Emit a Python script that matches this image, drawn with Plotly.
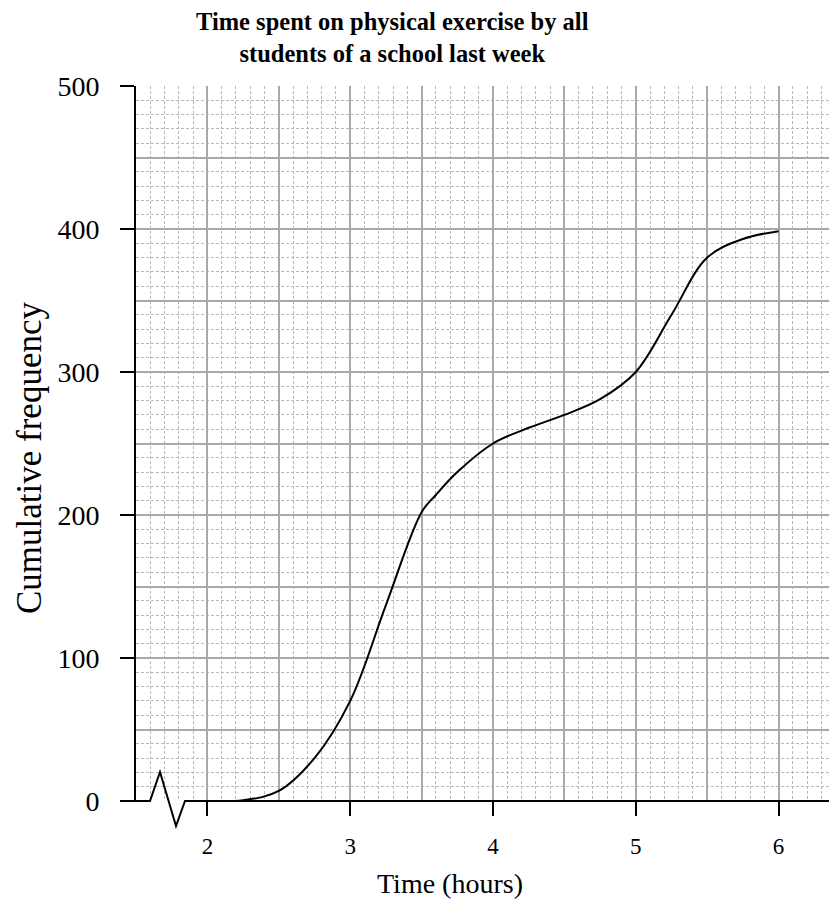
import plotly.graph_objects as go

# ---- data ----
hours = [2.0, 2.25, 2.5, 2.75, 3.0, 3.25, 3.5, 3.6, 3.75, 4.0, 4.25, 4.5, 4.75, 5.0, 5.25, 5.5, 5.75, 6.0]
cum_freq = [0, 0.5, 7, 30, 70, 137, 202, 214, 230, 250, 261, 270, 281, 300, 340, 380, 393, 398.5]
x_tick_vals = [2, 3, 4, 5, 6]
x_tick_text = ["2", "3", "4", "5", "6"]
y_tick_vals = [0, 100, 200, 300, 400, 500]
y_tick_text = ["0", "100", "200", "300", "400", "500"]

title_text = "<b>Time spent on physical exercise by all<br>students of a school last week</b>"
x_title = "Time (hours)"
y_title = "Cumulative frequency"

# ---- geometry (page pixels; the page body adds an 8px offset) ----
OFF = 8
PAGE_W, PAGE_H = 837, 904
PLOT_L, PLOT_R, PLOT_T, PLOT_B = 136, 837, 86, 801
W, H = PAGE_W - OFF, PAGE_H - OFF
L = PLOT_L - OFF
T = PLOT_T - OFF
R = PAGE_W - PLOT_R
B = PAGE_H - PLOT_B
PW, PH = PLOT_R - PLOT_L, PLOT_B - PLOT_T
X_RANGE = [1.5, 1.5 + PW / 142.8]
Y_RANGE = [0, 500]

FONT = "Liberation Serif, Times New Roman, serif"
MAJOR = "#a9a9a9"
MINOR = "#b8b8b8"


def px_x(p):
    return (p - PLOT_L) / PW


def px_y(p):
    return (PLOT_B - p) / PH


fig = go.Figure()
fig.add_trace(go.Scatter(
    x=hours, y=cum_freq, mode="lines",
    line=dict(color="black", width=2, shape="spline", smoothing=1.0),
    hoverinfo="skip", showlegend=False,
))
fig.add_trace(go.Scatter(x=[None], y=[None], xaxis="x2", yaxis="y2",
                         showlegend=False, hoverinfo="skip"))

minor_x = dict(dtick=0.1, tick0=0, showgrid=True, gridcolor=MINOR, gridwidth=1,
               griddash="3px,2px", ticks="")
minor_y = dict(dtick=10, tick0=0, showgrid=True, gridcolor=MINOR, gridwidth=1,
               griddash="3px,2px", ticks="")

fig.update_layout(
    width=W, height=H,
    margin=dict(l=L, r=R, t=T, b=B),
    paper_bgcolor="white", plot_bgcolor="white",
    font=dict(family=FONT, color="black"),
    xaxis=dict(range=X_RANGE, tickmode="array", tickvals=x_tick_vals, ticktext=x_tick_text,
               ticks="outside", ticklen=14, tickwidth=2, tickcolor="black",
               ticklabelstandoff=10,
               tickfont=dict(family=FONT, size=23, color="black"),
               showgrid=True, gridcolor=MAJOR, gridwidth=2,
               zeroline=False, showline=False, minor=minor_x),
    yaxis=dict(range=Y_RANGE, tickmode="array", tickvals=y_tick_vals, ticktext=y_tick_text,
               ticks="outside", ticklen=14, tickwidth=2, tickcolor="black",
               ticklabelstandoff=15,
               tickfont=dict(family=FONT, size=28, color="black"),
               showgrid=True, gridcolor=MAJOR, gridwidth=2,
               zeroline=False, showline=True, linecolor="black", linewidth=2,
               minor=minor_y),
    xaxis2=dict(range=X_RANGE, overlaying="x", anchor="y2", side="bottom",
                dtick=0.5, tick0=0, showgrid=True, gridcolor=MAJOR, gridwidth=2,
                showticklabels=False, ticks="", zeroline=False, showline=False),
    yaxis2=dict(range=Y_RANGE, overlaying="y", anchor="x2", side="left",
                dtick=50, tick0=0, showgrid=True, gridcolor=MAJOR, gridwidth=2,
                showticklabels=False, ticks="", zeroline=False, showline=False),
)

# x-axis line with the axis-break zigzag
pts = [(122, 801), (150, 801), (160, 772), (176, 826), (185, 801), (PAGE_W, 801)]
path = "M " + " L ".join(f"{px_x(a):.5f},{px_y(b):.5f}" for a, b in pts)
fig.add_shape(type="path", path=path, xref="paper", yref="paper",
              line=dict(color="black", width=2), layer="above")

fig.add_annotation(text=title_text, xref="paper", yref="paper",
                   x=px_x(392), y=px_y(6), xanchor="center", yanchor="top",
                   showarrow=False, font=dict(family=FONT, size=24.5, color="black"))
fig.add_annotation(text=x_title, xref="paper", yref="paper",
                   x=px_x(450), y=px_y(884), xanchor="center", yanchor="middle",
                   showarrow=False, font=dict(family=FONT, size=28, color="black"))
fig.add_annotation(text=y_title, xref="paper", yref="paper", textangle=-90,
                   x=px_x(29), y=px_y(458), xanchor="center", yanchor="middle",
                   showarrow=False, font=dict(family=FONT, size=35, color="black"))

fig.write_html("out.html")
